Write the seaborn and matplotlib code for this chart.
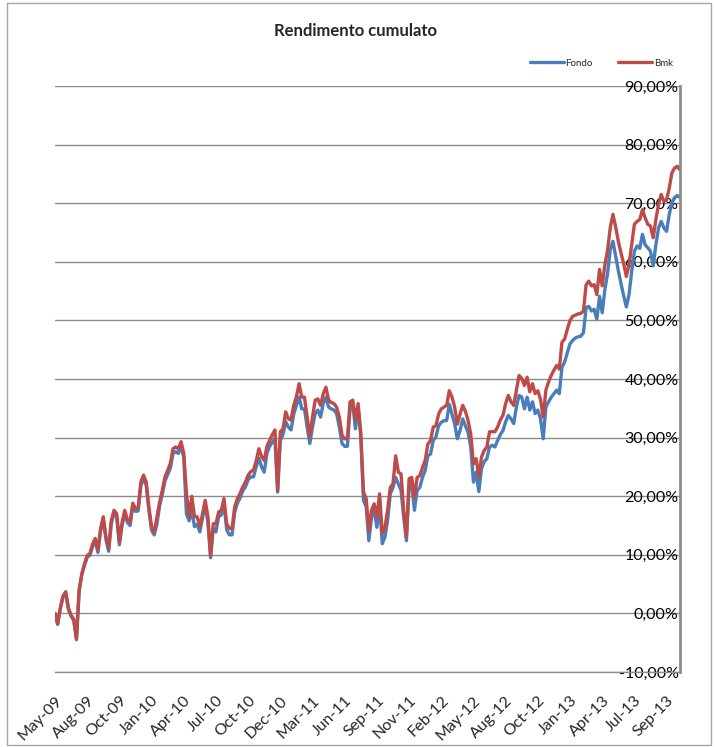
import numpy as np
import pandas as pd
import matplotlib
matplotlib.use("Agg")
import matplotlib.pyplot as plt
import seaborn as sns
from matplotlib.patches import Rectangle
from matplotlib.ticker import FuncFormatter

# weekly observations, first one on 15 May 2009
start_date = "2009-05-15"

# cumulative return in %
fondo = [
    0.0, -1.9, 0.8, 2.8, 3.5, 0.7, -0.5, -1.2, -4.5, 3.8,
    6.6, 8.2, 9.6, 9.9, 11.4, 12.4, 10.4, 14.0, 16.0, 12.6,
    10.6, 15.4, 17.1, 16.5, 11.7, 15.0, 17.1, 15.5, 15.0, 18.3,
    17.4, 17.5, 21.8, 23.0, 21.9, 17.6, 14.2, 13.4, 15.3, 18.3,
    20.3, 22.6, 23.7, 24.8, 27.3, 27.6, 27.3, 28.6, 26.6, 17.0,
    15.8, 17.5, 14.8, 15.2, 13.9, 16.3, 18.5, 15.6, 9.5, 14.5,
    13.9, 16.5, 16.8, 18.8, 14.3, 13.4, 13.4, 17.3, 18.8, 19.7,
    20.9, 21.6, 22.8, 23.3, 23.3, 25.0, 26.5, 25.0, 24.1, 27.3,
    28.5, 29.2, 29.8, 20.7, 29.5, 30.5, 32.7, 31.8, 31.3, 34.0,
    35.5, 36.9, 34.9, 34.9, 31.8, 29.0, 31.8, 34.1, 34.7, 33.5,
    35.8, 36.9, 35.2, 34.9, 34.7, 34.1, 31.8, 29.0, 28.5, 28.5,
    34.9, 35.8, 31.5, 35.2, 30.1, 19.3, 18.2, 12.4, 16.4, 17.6,
    14.7, 18.7, 11.9, 13.0, 15.9, 20.4, 21.5, 23.2, 22.1, 21.0,
    16.4, 12.4, 21.5, 22.1, 17.6, 21.0, 21.5, 23.2, 24.4, 26.9,
    27.2, 29.5, 30.1, 32.0, 32.6, 32.9, 32.9, 35.7, 34.0, 32.3,
    29.8, 31.2, 33.2, 32.0, 30.9, 28.4, 22.4, 24.1, 20.8, 24.7,
    25.9, 26.4, 28.4, 28.7, 28.4, 29.5, 30.5, 31.2, 32.7, 33.8,
    33.2, 32.4, 35.2, 37.2, 36.9, 34.9, 36.9, 34.7, 36.1, 34.1,
    34.7, 33.2, 29.8, 35.2, 36.1, 36.9, 37.5, 38.1, 37.5, 42.0,
    42.9, 44.5, 46.0, 46.6, 47.0, 47.2, 47.3, 47.9, 52.2, 52.4,
    51.6, 51.9, 50.2, 54.1, 51.3, 55.3, 58.0, 62.1, 63.5, 61.0,
    58.5, 56.3, 54.2, 52.3, 54.4, 58.4, 61.8, 62.7, 62.3, 64.7,
    62.9, 62.4, 61.8, 59.3, 62.9, 65.8, 66.9, 65.8, 65.2, 68.1,
    70.1, 71.0, 71.3, 71.0,
]

bmk = [
    0.0, -1.7, 1.0, 3.0, 3.7, 0.9, -0.3, -1.0, -4.3, 4.0,
    6.8, 8.5, 9.9, 10.2, 11.8, 12.8, 10.8, 14.5, 16.5, 13.0,
    11.1, 15.9, 17.6, 17.0, 12.2, 15.5, 17.6, 16.0, 15.6, 18.8,
    17.9, 18.0, 22.4, 23.6, 22.4, 18.2, 14.8, 13.9, 16.5, 19.0,
    21.0, 23.3, 24.4, 25.6, 28.1, 28.4, 28.1, 29.3, 27.3, 20.5,
    16.5, 20.0, 16.5, 16.5, 14.8, 17.0, 19.3, 16.5, 9.9, 15.3,
    15.3, 17.3, 17.6, 19.6, 15.3, 14.5, 14.5, 18.2, 19.6, 20.5,
    21.6, 22.4, 23.6, 24.2, 24.5, 26.0, 28.1, 26.8, 26.1, 28.5,
    29.5, 30.5, 31.3, 21.0, 31.0, 31.5, 34.4, 33.2, 33.0, 35.5,
    37.0, 39.2, 36.9, 36.9, 33.5, 30.1, 33.5, 36.4, 36.6, 35.5,
    37.5, 38.6, 36.4, 36.0, 35.8, 35.2, 33.5, 30.4, 29.8, 29.8,
    36.1, 36.4, 33.0, 35.8, 30.7, 20.7, 19.6, 14.1, 17.6, 18.7,
    16.4, 20.4, 13.6, 14.7, 17.6, 21.5, 22.1, 26.9, 24.1, 23.8,
    17.6, 13.0, 23.0, 23.2, 19.8, 23.2, 23.5, 24.9, 26.1, 28.9,
    29.5, 31.8, 32.0, 34.0, 34.9, 35.2, 35.5, 38.0, 36.9, 35.2,
    32.3, 34.0, 35.5, 34.5, 32.9, 30.6, 25.5, 26.4, 23.3, 26.7,
    27.8, 28.4, 31.0, 31.0, 31.0, 31.8, 33.0, 33.8, 35.8, 37.2,
    36.1, 35.5, 38.1, 40.6, 40.1, 38.9, 40.3, 37.8, 39.2, 37.5,
    38.0, 36.5, 33.5, 38.1, 39.5, 40.6, 41.5, 42.3, 41.7, 46.3,
    46.8, 48.5, 50.0, 50.7, 50.9, 51.1, 51.2, 51.6, 56.1, 56.7,
    55.9, 56.1, 54.4, 58.7, 55.9, 59.5, 62.0, 65.8, 68.1, 66.0,
    63.5, 61.5, 59.7, 57.5, 59.5, 63.0, 66.4, 66.9, 67.2, 68.9,
    67.5, 66.4, 66.1, 64.1, 67.2, 69.8, 71.5, 70.3, 70.6, 72.6,
    75.2, 76.0, 76.3, 75.7,
]

series_names = ["Fondo", "Bmk"]
colors = {"Fondo": "#4a7ebb", "Bmk": "#be4b48"}

dates = pd.date_range(start_date, periods=len(fondo), freq="7D")
df = pd.concat([
    pd.DataFrame({"data": dates, "rend": fondo, "serie": "Fondo"}),
    pd.DataFrame({"data": dates, "rend": bmk, "serie": "Bmk"}),
])

sns.set_style("white")
plt.rcParams["font.family"] = ["Lato", "DejaVu Sans"]

fig = plt.figure(figsize=(7.15, 7.47), dpi=100)
ax = fig.add_axes([55 / 715, 1 - 672 / 747, 625 / 715, 586 / 747])

sns.lineplot(data=df, x="data", y="rend", hue="serie", hue_order=series_names,
             palette=colors, linewidth=2.4, ax=ax, legend=False)

# grid + axes the excel way
grid_col = "#8c8c8c"
ax.set_ylim(-10, 90)
ax.set_yticks(np.arange(-10, 91, 10))
ax.yaxis.grid(True, color=grid_col, linewidth=1.0)
ax.xaxis.grid(False)
ax.set_axisbelow(True)
for side in ["left", "top"]:
    ax.spines[side].set_visible(False)
ax.spines["right"].set_color(grid_col)
ax.spines["right"].set_linewidth(2.0)
ax.spines["bottom"].set_color(grid_col)
ax.spines["bottom"].set_linewidth(1.0)

ax.yaxis.tick_right()
ax.yaxis.set_major_formatter(FuncFormatter(lambda v, _: f"{v:.2f}%".replace(".", ",")))
ax.tick_params(axis="y", right=False, left=False, labelright=True, labelleft=False,
               pad=-4.5, labelsize=11.5, labelcolor="black")
for lbl in ax.get_yticklabels():
    lbl.set_horizontalalignment("right")

ax.set_xlim(dates[0], dates[-1])
tick_dates = dates[::12]
ax.set_xticks(tick_dates)
ax.set_xticklabels([d.strftime("%b-%y") for d in tick_dates])
ax.tick_params(axis="x", bottom=False, pad=12, labelsize=11.5)
for lbl in ax.get_xticklabels():
    lbl.set_rotation(45)
    lbl.set_horizontalalignment("right")
    lbl.set_rotation_mode("anchor")

ax.set_xlabel("")
ax.set_ylabel("")

fig.text(355 / 715, 1 - 31 / 747, "Rendimento cumulato", ha="center", va="center",
         fontsize=12, fontweight="bold")

handles = [plt.Line2D([], [], color=colors[s], linewidth=2.4) for s in series_names]
fig.legend(handles, series_names, loc="center right", bbox_to_anchor=(682 / 715, 1 - 63 / 747),
           ncol=2, frameon=False, fontsize=7, handlelength=3.5, handletextpad=0.2,
           columnspacing=2.6)

# chart border
fig.patches.append(Rectangle((7 / 715, 2 / 747), 704 / 715, 742 / 747, transform=fig.transFigure,
                             fill=False, edgecolor="#a6a6a6", linewidth=1.0))

fig.savefig("out.png", dpi=100)
